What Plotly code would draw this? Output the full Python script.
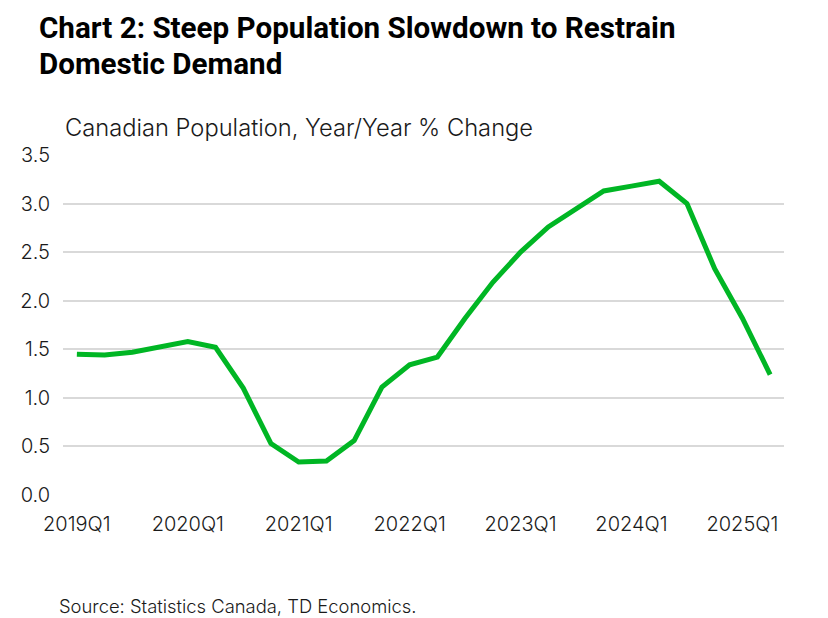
import plotly.graph_objects as go

quarters = [f"{y}Q{q}" for y in range(2019, 2026) for q in range(1, 5)][:26]
pop_growth = [1.45, 1.44, 1.47, 1.53, 1.58, 1.52, 1.10, 0.53,
              0.34, 0.35, 0.56, 1.11, 1.34, 1.42, 1.82, 2.19,
              2.50, 2.76, 2.95, 3.13, 3.18, 3.23, 3.00, 2.33,
              1.82, 1.24]
tick_labels = [q for q in quarters if q.endswith("Q1")]

title_lines = ["Chart 2: Steep Population Slowdown to Restrain", "Domestic Demand"]
subtitle_text = "Canadian Population, Year/Year % Change"
source_text = "Source: Statistics Canada, TD Economics."

# page has an 8px body margin, so the figure is a bit smaller than the window
PLOT_W, PLOT_H = 721, 340

fig = go.Figure()
fig.add_trace(go.Scatter(x=quarters, y=pop_growth, mode="lines",
                         line=dict(color="#00b624", width=5), showlegend=False))

fig.update_layout(
    width=820, height=610,
    margin=dict(l=55, r=44, t=147, b=123),
    paper_bgcolor="white", plot_bgcolor="white",
    font=dict(family="Inter", color="#1a1a1a", size=20),
    xaxis=dict(type="category", range=[-0.5, 25.5], tickvals=tick_labels,
               showgrid=False, zeroline=False, showline=False, ticks="",
               ticklabelstandoff=15, tickfont=dict(size=20, weight=300)),
    yaxis=dict(range=[0, 3.5], dtick=0.5, tickformat=".1f",
               showgrid=True, gridcolor="#d9d9d9", gridwidth=1.5,
               zeroline=False, showline=False, ticks="",
               ticklabelstandoff=12, tickfont=dict(size=20, weight=300)),
)

anns = [
    (title_lines[0], -26, 127, dict(family="Roboto", size=29.6, color="black", weight="bold")),
    (title_lines[1], -26, 91, dict(family="Roboto", size=29.6, color="black", weight="bold")),
    (subtitle_text, 0, 28, dict(family="Inter", size=23.7, color="#1a1a1a", weight=300)),
    (source_text, -6, -111, dict(family="Inter", size=18.4, color="#1a1a1a", weight=300)),
]
for text, dx, dy, font in anns:
    fig.add_annotation(text=text, xref="paper", yref="paper",
                       x=dx / PLOT_W, y=1 + dy / PLOT_H if dy > 0 else dy / PLOT_H,
                       xanchor="left", yanchor="middle", showarrow=False, font=font)

fig.write_html("out.html")
